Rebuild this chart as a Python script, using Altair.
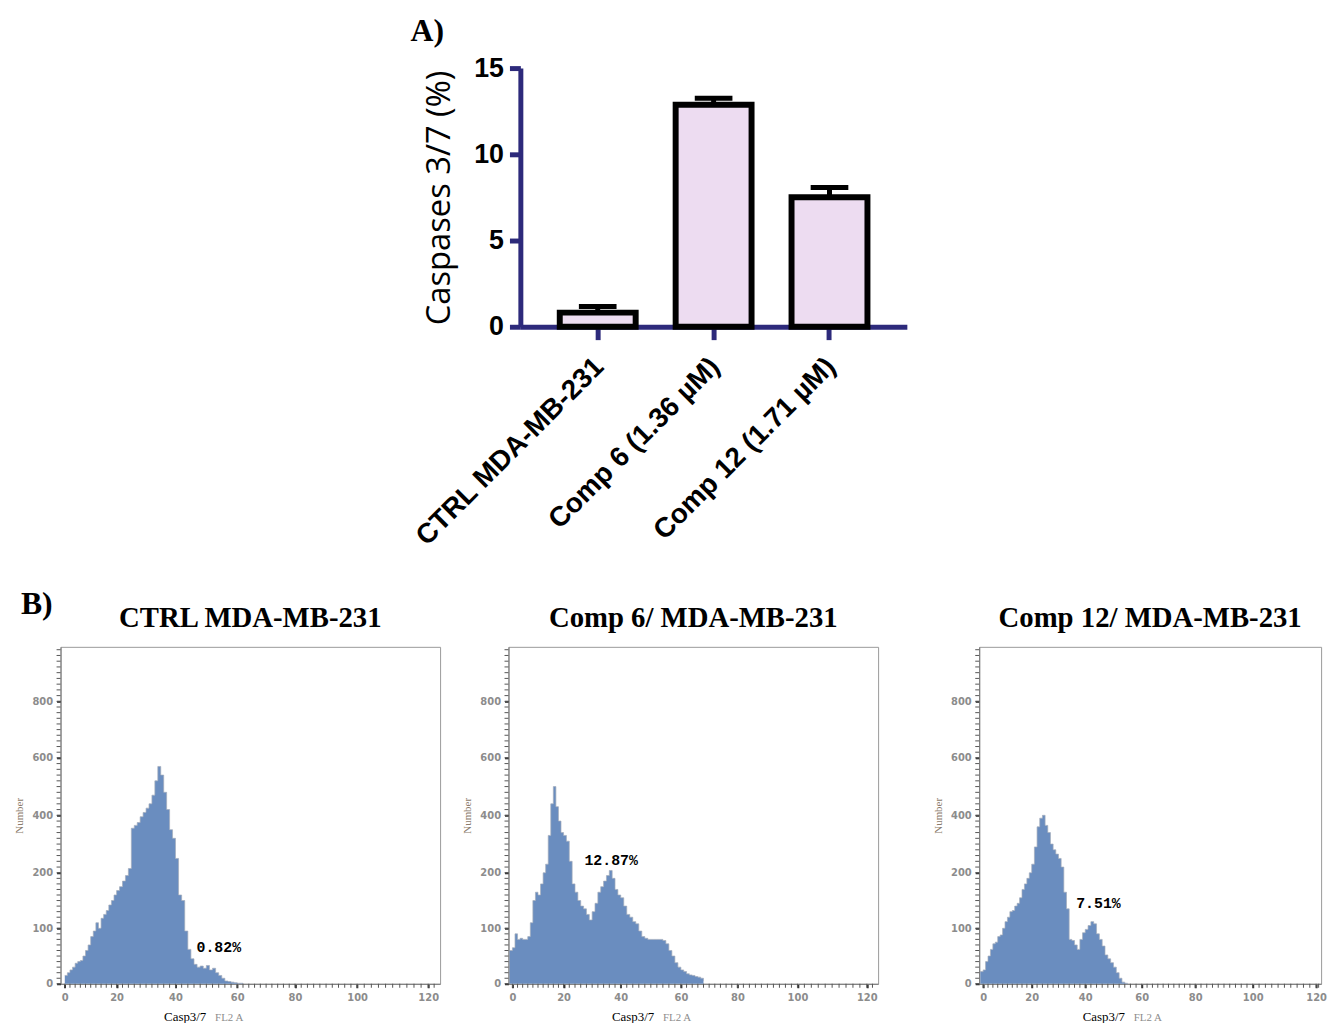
import altair as alt
import pandas as pd

# ---------------- Panel A data ----------------
groups = ["CTRL MDA-MB-231", "Comp 6 (1.36 µM)", "Comp 12 (1.71 µM)"]
caspase_pct = [0.82, 12.87, 7.51]
caspase_err = [0.36, 0.38, 0.56]

# ---------------- Panel B data (histograms) ----------------
ctrl_channels = list(range(0, 63))
ctrl_counts = [15, 20, 25, 30, 37, 40, 42, 50, 60, 70,
               85, 95, 110, 100, 118, 125, 132, 142, 150, 160,
               168, 175, 185, 195, 215, 355, 365, 375, 395, 410,
               425, 440, 470, 520, 570, 540, 480, 420, 350, 320,
               250, 160, 150, 95, 62, 45, 35, 30, 32, 28,
               33, 25, 28, 20, 15, 10, 5, 4, 3, 2,
               1, 1, 0]

comp6_channels = list(range(-1, 69))
comp6_counts = [60,
                65, 90, 80, 82, 80, 80, 85, 110, 150, 165,
                160, 180, 200, 230, 330, 440, 500, 430, 380, 340,
                330, 310, 240, 180, 165, 150, 140, 135, 125, 115,
                130, 145, 165, 175, 185, 195, 208, 190, 170, 160,
                155, 140, 125, 120, 112, 108, 95, 85, 82, 80,
                80, 80, 80, 80, 78, 72, 60, 50, 38, 30,
                25, 22, 18, 16, 15, 13, 12, 10, 5]

comp12_channels = list(range(-1, 56))
comp12_counts = [22,
                 25, 40, 50, 62, 72, 75, 85, 88, 100, 112,
                 120, 130, 132, 140, 145, 155, 170, 180, 190, 200,
                 230, 290, 360, 390, 400, 365, 340, 300, 280, 265,
                 250, 220, 165, 135, 80, 78, 70, 62, 80, 92,
                 98, 105, 112, 108, 90, 80, 68, 52, 45, 38,
                 30, 20, 10, 3, 1, 0]

hist_titles = ["CTRL MDA-MB-231", "Comp 6/ MDA-MB-231", "Comp 12/ MDA-MB-231"]
pct_labels = ["0.82%", "12.87%", "7.51%"]
pct_label_x = [46.8, 27.3, 36.6]
pct_label_y = [67, 246, 145]

# axis ticks (the instrument's axes are not evenly spaced)
y_label_values = [0, 100, 200, 400, 600, 800]
x_label_values = [0, 20, 40, 60, 80, 100, 120]
y_minor_ticks = list(range(0, 200, 10)) + list(range(200, 990, 20))
x_minor_ticks = list(range(0, 124, 2))
y_scale_domain = [0, 100, 200, 400, 600, 800, 990]
x_scale_domain = [-1.4, 0, 20, 40, 60, 80, 100, 120, 124]

NAVY = "#2d2a7b"
BLUE = "#6a8dbf"
H_HEIGHT = 340
# pixel layout of each histogram's own axis, as measured on the instrument plots
y_scale_range = [H_HEIGHT, 284, 228, 170, 112, 55, 0]
x_ranges = [
    [0, 4.3, 56.6, 116, 178.3, 236.6, 299.3, 371, 383],
    [0, 4, 55.6, 113.3, 174, 231, 291.6, 361.6, 373],
    [0, 4, 53, 107, 164, 218, 276, 340, 345],
]

# ---------------- Panel A chart ----------------
bar_df = pd.DataFrame({
    "group": groups,
    "pct": caspase_pct,
    "top": [p + e for p, e in zip(caspase_pct, caspase_err)],
})

xA = alt.X("group:N", sort=groups,
           scale=alt.Scale(paddingInner=0.345, paddingOuter=0.34),
           axis=alt.Axis(title=None, labelAngle=-45, labelFont="Liberation Sans",
                         labelFontWeight="bold", labelFontSize=28, labelColor="black",
                         labelPadding=13, labelOffset=-8, labelLimit=500,
                         domainColor=NAVY, domainWidth=5,
                         tickColor=NAVY, tickWidth=5, tickSize=13, grid=False))
yA_axis = alt.Axis(title="Caspases 3/7 (%)", values=[0, 5, 10, 15],
                   labelFont="Liberation Sans", labelFontWeight="bold", labelFontSize=27,
                   labelColor="black", labelPadding=6, domainColor=NAVY, domainWidth=5,
                   tickColor=NAVY, tickWidth=5, tickSize=11, grid=False,
                   titleFont="Open Sans", titleFontSize=33, titleFontWeight="normal",
                   titleColor="black", titlePadding=17)
yA_scale = alt.Scale(domain=[0, 15], nice=False)

bars = alt.Chart(bar_df).mark_bar(fill="#eddcf1", stroke="black", strokeWidth=6,
                                  opacity=1).encode(
    x=xA, y=alt.Y("pct:Q", scale=yA_scale, axis=yA_axis))
err_rule = alt.Chart(bar_df).mark_rule(color="black", strokeWidth=5, opacity=1).encode(
    x=xA, y=alt.Y("pct:Q", scale=yA_scale, axis=yA_axis), y2="top:Q")
err_cap = alt.Chart(bar_df).mark_tick(color="black", thickness=5, size=38, opacity=1).encode(
    x=xA, y=alt.Y("top:Q", scale=yA_scale, axis=yA_axis))

chartA = alt.layer(bars, err_rule, err_cap).properties(
    width=390, height=261,
    view=alt.ViewBackground(stroke="transparent"),
    title=alt.TitleParams("A)", anchor="start", frame="bounds", font="Liberation Serif",
                          fontSize=32, fontWeight="bold", color="black", offset=6, dx=0),
)

spacer = alt.Chart(pd.DataFrame({"v": [0]})).mark_point(opacity=0).encode(
    x=alt.value(0), y=alt.value(0)).properties(
    width=351, height=10, view=alt.ViewBackground(stroke="transparent"))

top_row = alt.hconcat(spacer, chartA, spacing=0)

# ---------------- Panel B charts ----------------
def histogram(channels, counts, title, label, lx, ly, width, xrange, show_b, extend_right=None):
    df = pd.DataFrame({"channel": channels, "count": counts})
    xs = alt.Scale(domain=x_scale_domain, range=xrange, nice=False, zero=False)
    ys = alt.Scale(domain=y_scale_domain, range=y_scale_range, nice=False, zero=False)
    x_axis = alt.Axis(values=x_label_values, labelFont="DejaVu Sans", labelFontSize=10,
                      labelFontWeight="bold", labelColor="#8c8c8c", labelPadding=5,
                      tickSize=4, tickWidth=2, tickColor="#333333", domainColor="#777777",
                      grid=False, title="Casp3/7", titleFont="Liberation Serif",
                      titleFontSize=13, titleFontWeight="normal", titleColor="black",
                      titlePadding=8, titleX=104, titleAlign="left")
    y_axis = alt.Axis(values=y_label_values, labelFont="DejaVu Sans", labelFontSize=10,
                      labelFontWeight="bold", labelColor="#8c8c8c", labelPadding=4,
                      tickSize=4, tickWidth=2, tickColor="#333333", domainColor="#777777",
                      grid=False, title="Number", titleFont="Liberation Serif",
                      titleFontSize=11, titleFontWeight="normal", titleColor="#8b7b6b",
                      titlePadding=7)
    area = alt.Chart(df).mark_area(interpolate="step-after", color=BLUE, opacity=1,
                                   line={"color": "#a4adbb", "strokeWidth": 0.7}).encode(
        x=alt.X("channel:Q", scale=xs, axis=x_axis),
        y=alt.Y("count:Q", scale=ys, axis=y_axis))
    xminor = alt.Chart(pd.DataFrame({"channel": x_minor_ticks})).mark_tick(
        orient="vertical", size=4, thickness=1, color="#555555", opacity=1).encode(
        x="channel:Q", y=alt.value(H_HEIGHT + 2))
    yminor = alt.Chart(pd.DataFrame({"count": y_minor_ticks})).mark_tick(
        orient="horizontal", size=4, thickness=1, color="#555555", opacity=1).encode(
        y="count:Q", x=alt.value(-2))
    lab_df = pd.DataFrame({"channel": [lx], "count": [ly], "label": [label]})
    pct = alt.Chart(lab_df).mark_text(align="left", baseline="middle", font="Liberation Mono",
                                      fontWeight="bold", fontSize=15, color="black").encode(
        x="channel:Q", y="count:Q", text="label:N")
    fl2 = alt.Chart(pd.DataFrame({"t": ["FL2 A"]})).mark_text(
        align="left", baseline="alphabetic", font="Liberation Serif", fontSize=11,
        color="#8c8c8c").encode(x=alt.value(156), y=alt.value(H_HEIGHT + 38), text="t:N")
    ttl = alt.Chart(pd.DataFrame({"t": [title]})).mark_text(
        align="center", baseline="alphabetic", font="Liberation Serif", fontSize=29,
        fontWeight="bold", color="black").encode(
        x=alt.value(width / 2), y=alt.value(-20), text="t:N")
    btxt = alt.Chart(pd.DataFrame({"t": ["B)"]})).mark_text(
        align="left", baseline="alphabetic", font="Liberation Serif", fontSize=32,
        fontWeight="bold", color="black" if show_b else "white").encode(
        x=alt.value(-40), y=alt.value(-33), text="t:N")
    layers = [area, xminor, yminor, pct, fl2, ttl, btxt]
    if extend_right is not None:
        ext = alt.Chart(pd.DataFrame({"t": ["."]})).mark_text(
            align="right", baseline="middle", fontSize=8, color="white").encode(
            x=alt.value(extend_right), y=alt.value(100), text="t:N")
        layers.append(ext)
    return alt.layer(*layers).properties(
        width=width, height=H_HEIGHT,
        view=alt.ViewBackground(stroke="#9a9a9a"))

h1 = histogram(ctrl_channels, ctrl_counts, hist_titles[0], pct_labels[0],
               pct_label_x[0], pct_label_y[0], 383, x_ranges[0], True)
h2 = histogram(comp6_channels, comp6_counts, hist_titles[1], pct_labels[1],
               pct_label_x[1], pct_label_y[1], 373, x_ranges[1], False, extend_right=406)
h3 = histogram(comp12_channels, comp12_counts, hist_titles[2], pct_labels[2],
               pct_label_x[2], pct_label_y[2], 345, x_ranges[2], False)

bottom_row = alt.hconcat(h1, h2, h3, spacing=20)

chart = alt.vconcat(top_row, bottom_row, spacing=36).properties(
    padding={"left": 5, "top": 2, "right": 5, "bottom": 2}
).configure(
    background="white"
).configure_view(stroke="transparent")

chart.save("out.html", embed_options={"renderer": "svg", "actions": False})
